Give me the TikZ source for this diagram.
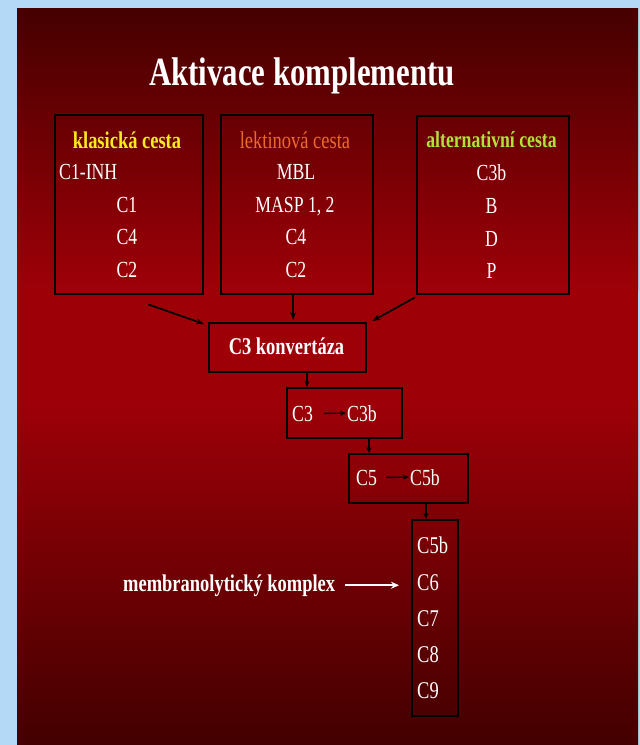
\documentclass[tikz,border=0pt]{standalone}
\usepackage{fontspec}
\setmainfont[FakeStretch=0.77]{Liberation Serif}
\usetikzlibrary{calc,arrows.meta}
\definecolor{bluebg}{HTML}{B3D9F7}
\definecolor{slidetop}{HTML}{450000}
\definecolor{slidemid}{HTML}{9E0008}
\definecolor{slidebot}{HTML}{420000}
\definecolor{hyellow}{HTML}{F8EC1E}
\definecolor{horange}{HTML}{EC6A2A}
\definecolor{hgreen}{HTML}{B2E03C}
\tikzset{
  box/.style={draw=black, line width=2.4pt, inner sep=0pt, anchor=north west},
  item/.style={text=white, inner sep=0pt, anchor=base, font=\fontsize{23}{25}\selectfont},
  itemw/.style={item, anchor=base west},
  head/.style={inner sep=0pt, anchor=base, font=\fontsize{24}{26}\selectfont},
  bigitem/.style={text=white, inner sep=0pt, anchor=base west, font=\fontsize{24}{26}\selectfont},
  arr/.style={draw=black, line width=1.7pt, -{Stealth[length=8pt,width=6pt]}},
  inarr/.style={draw=black, line width=1.4pt, -{Stealth[length=6pt,width=5pt]}},
}
\begin{document}
\begin{tikzpicture}[x=1pt,y=-1pt]
\useasboundingbox (0,0) rectangle (640,745);
\fill[bluebg] (0,0) rectangle (640,745);
\shade[top color=slidetop, bottom color=slidemid] (17,8) rectangle (638,290);
\fill[slidemid] (17,289.5) rectangle (638,400.5);
\shade[top color=slidemid, bottom color=slidebot] (17,400) rectangle (638,745);

% title
\node[text=white, inner sep=0pt, anchor=base, font=\fontsize{40}{44}\selectfont\bfseries] (title) at (302,85) {Aktivace komplementu};

% boxes
\node[box, minimum width=148, minimum height=179] (b1) at (54,114) {};
\node[box, minimum width=152, minimum height=179] (b2) at (220,114) {};
\node[box, minimum width=152, minimum height=178] (b3) at (416,115) {};
\node[box, minimum width=157, minimum height=49] (c3k) at (208,322) {};
\node[box, minimum width=115, minimum height=50] (c3box) at (286,387) {};
\node[box, minimum width=119, minimum height=49] (c5box) at (348,453) {};
\node[box, minimum width=46, minimum height=196] (fin) at (411,519) {};

% box 1
\node[head, text=hyellow, font=\fontsize{24}{26}\selectfont\bfseries] (h1) at (127,148) {klasická cesta};
\node[itemw] (a1) at (59,179) {C1-INH};
\node[item] (a2) at (127,212) {C1};
\node[item] (a3) at (127,244) {C4};
\node[item] (a4) at (127,277) {C2};

% box 2
\node[head, text=horange] (h2) at (295,148) {lektinová cesta};
\node[item] (l1) at (296,179) {MBL};
\node[item] (l2) at (295,212) {MASP 1, 2};
\node[item] (l3) at (296,244) {C4};
\node[item] (l4) at (296,277) {C2};

% box 3
\node[head, text=hgreen, font=\fontsize{23}{25}\selectfont\bfseries] (h3) at (491.5,147) {alternativní cesta};
\node[item] (r1) at (491.5,180) {C3b};
\node[item] (r2) at (491.5,213) {B};
\node[item] (r3) at (491.5,246) {D};
\node[item] (r4) at (491.5,278) {P};

% C3 konvertaza
\node[text=white, inner sep=0pt, anchor=base, font=\fontsize{24}{26}\selectfont\bfseries] (c3kt) at (286.5,354) {C3 konvertáza};

% C3 -> C3b
\node[itemw] (t3) at (292,421) {C3};
\node[itemw] (t3b) at (347,421) {C3b};
\draw[inarr, shorten <=11pt, shorten >=1pt] (t3.east) -- (t3b.west);

% C5 -> C5b
\node[itemw] (t5) at (356,485) {C5};
\node[itemw] (t5b) at (410,485) {C5b};
\draw[inarr, shorten <=9pt, shorten >=1pt] (t5.east) -- (t5b.west);

% final list
\node[bigitem] (f1) at (417,553) {C5b};
\node[bigitem] (f2) at (417,590) {C6};
\node[bigitem] (f3) at (417,626) {C7};
\node[bigitem] (f4) at (417,662) {C8};
\node[bigitem] (f5) at (417,698) {C9};

% membranolytic label
\node[text=white, inner sep=0pt, anchor=base west, font=\fontsize{24}{26}\selectfont\bfseries] (mem) at (123,591) {membranolytický komplex};
\draw[draw=white, line width=2pt, -{Stealth[length=8pt,width=7pt]}, shorten <=10pt, shorten >=18pt] (mem.east) -- (f2.west |- mem.east);

% connectors
\draw[arr] ($(b1.south)+(19,9)$) -- ($(c3k.north west)+(-4,2)$);
\draw[arr] ($(b2.south)+(-4,0)$) -- ($(c3k.north)+(5.5,-2)$);
\draw[arr] ($(b3.south west)+(-1,2)$) -- ($(c3k.north east)+(5,-1)$);
\draw[inarr] ($(c3k.south west)+(99,0)$) -- ($(c3box.north west)+(21,0)$);
\draw[inarr] ($(c3box.south west)+(83,0)$) -- ($(c5box.north west)+(21,0)$);
\draw[inarr] ($(c5box.south west)+(78,0)$) -- ($(fin.north west)+(15,0)$);
\end{tikzpicture}
\end{document}
